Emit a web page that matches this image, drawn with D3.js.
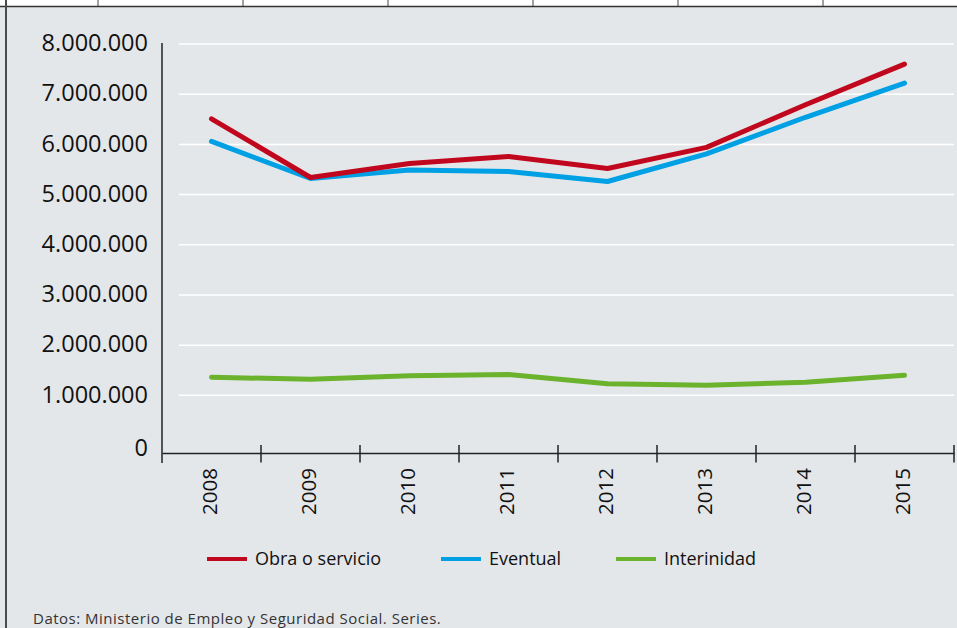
<!DOCTYPE html>
<html>
<head>
<meta charset="utf-8">
<script src="https://cdn.jsdelivr.net/npm/d3@7"></script>
<style>
  html, body { margin: 0; padding: 0; background: #fff; }
  svg { display: block; }
</style>
</head>
<body>
<script>
var years = ["2008","2009","2010","2011","2012","2013","2014","2015"];
var obraServicio = [6510000, 5340000, 5620000, 5760000, 5520000, 5940000, 6790000, 7600000];
var eventual = [6060000, 5320000, 5490000, 5460000, 5260000, 5810000, 6540000, 7220000];
var interinidad = [1360000, 1320000, 1390000, 1415000, 1230000, 1200000, 1260000, 1400000];
var yTicks = [0, 1000000, 2000000, 3000000, 4000000, 5000000, 6000000, 7000000, 8000000];
var seriesNames = ["Obra o servicio", "Eventual", "Interinidad"];
var seriesColors = ["#c1071e", "#00a0e4", "#6bb22d"];
var footerText = "Datos: Ministerio de Empleo y Seguridad Social. Series.";

var W = 957, H = 628;

var svg = d3.select("body").append("svg")
  .attr("width", W)
  .attr("height", H);

// background panel
svg.append("rect").attr("width", W).attr("height", H).attr("fill", "#e4e7ea");
// white strip of the table above (cut off)
svg.append("rect").attr("width", W).attr("height", 6).attr("fill", "#fff");
svg.append("line").attr("x1", 0).attr("x2", W).attr("y1", 6.5).attr("y2", 6.5)
  .attr("stroke", "#333").attr("stroke-width", 1.5);
[98, 243, 388, 533, 678, 823].forEach(function(x){
  svg.append("line").attr("x1", x).attr("x2", x).attr("y1", 0).attr("y2", 6)
    .attr("stroke", "#444").attr("stroke-width", 1);
});
svg.append("line").attr("x1", 6).attr("x2", 6).attr("y1", 0).attr("y2", H)
  .attr("stroke", "#4a4a4a").attr("stroke-width", 2);

var x = d3.scaleBand().domain(years).range([162, 954]).padding(0);
var y = d3.scaleLinear().domain([0, 8000000]).range([445.5, 44]);
var axisY = 453;

var fmt = function(v){
  return d3.format(",")(v).replace(/,/g, ".");
};

// gridlines
svg.append("g")
  .selectAll("line")
  .data(yTicks.filter(function(d){ return d > 0; }))
  .join("line")
  .attr("x1", 179).attr("x2", 954)
  .attr("y1", function(d){ return y(d); })
  .attr("y2", function(d){ return y(d); })
  .attr("stroke", "#fff").attr("stroke-width", 1.5);

// y labels
svg.append("g")
  .selectAll("text")
  .data(yTicks)
  .join("text")
  .attr("x", 148)
  .attr("y", function(d){ return d === 0 ? 450 : y(d) + 1; })
  .attr("text-anchor", "end")
  .attr("dominant-baseline", "middle")
  .attr("font-family", "'Open Sans', sans-serif")
  .attr("font-size", 23.5)
  .attr("fill", "#111")
  .text(fmt);

// y axis line
svg.append("line").attr("x1", 162).attr("x2", 162).attr("y1", 43).attr("y2", 463)
  .attr("stroke", "#222").attr("stroke-width", 1.5);

// x axis
var xAxis = d3.axisBottom(x).tickSize(0).tickFormat("");
var gx = svg.append("g").attr("transform", "translate(0," + axisY + ")").call(xAxis);
gx.select(".domain").attr("stroke", "#222").attr("stroke-width", 1.5);
var bounds = years.map(function(d){ return x(d); }).concat([x.range()[1]]);
gx.selectAll(".sep")
  .data(bounds.slice(1))
  .join("line")
  .attr("class", "sep")
  .attr("x1", function(d){ return d; }).attr("x2", function(d){ return d; })
  .attr("y1", -8).attr("y2", 9.5)
  .attr("stroke", "#222").attr("stroke-width", 1.5);

svg.append("g")
  .selectAll("text")
  .data(years)
  .join("text")
  .attr("transform", function(d){
    return "translate(" + (x(d) + x.bandwidth() / 2 + 0.5) + ",468) rotate(-90)";
  })
  .attr("text-anchor", "end")
  .attr("dominant-baseline", "middle")
  .attr("font-family", "'Open Sans', sans-serif")
  .attr("font-size", 20.5)
  .attr("fill", "#111")
  .text(function(d){ return d; });

// lines
var line = d3.line()
  .x(function(d, i){ return x(years[i]) + x.bandwidth() / 2; })
  .y(function(d){ return y(d); });

[interinidad, eventual, obraServicio].forEach(function(s, k){
  var idx = 2 - k;
  svg.append("path")
    .datum(s)
    .attr("d", line)
    .attr("fill", "none")
    .attr("stroke", seriesColors[idx])
    .attr("stroke-width", 5)
    .attr("stroke-linejoin", "round")
    .attr("stroke-linecap", "round");
});

// legend
var legendX = [207, 441, 616];
var lg = svg.append("g");
seriesNames.forEach(function(name, i){
  lg.append("line")
    .attr("x1", legendX[i]).attr("x2", legendX[i] + 40)
    .attr("y1", 559).attr("y2", 559)
    .attr("stroke", seriesColors[i]).attr("stroke-width", 4);
  lg.append("text")
    .attr("x", legendX[i] + 48).attr("y", 560)
    .attr("dominant-baseline", "middle")
    .attr("font-family", "'Open Sans', sans-serif")
    .attr("font-size", 18)
    .attr("fill", "#111")
    .text(name);
});

// source
svg.append("text")
  .attr("x", 33).attr("y", 624)
  .attr("font-family", "'Open Sans', sans-serif")
  .attr("font-size", 15)
  .attr("letter-spacing", 0.5)
  .attr("fill", "#333")
  .text(footerText);
</script>
</body>
</html>
